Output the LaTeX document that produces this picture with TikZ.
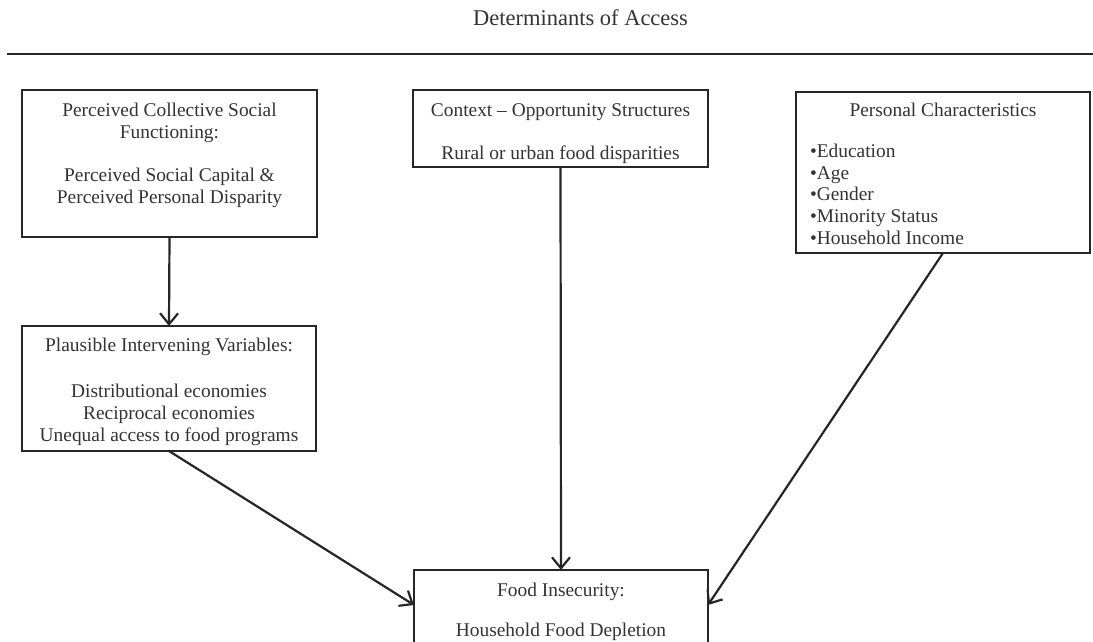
\documentclass[tikz,border=0pt]{standalone}
\usepackage{fontspec}
\setmainfont{Liberation Serif}
\usetikzlibrary{arrows.meta}
\definecolor{ink}{HTML}{333333}
\definecolor{linec}{HTML}{262626}
\begin{document}
\begin{tikzpicture}[x=1pt,y=-1pt,
  box/.style={draw=linec,line width=2.2pt,rectangle,inner sep=0pt,outer sep=0pt},
  txt/.style={text=ink,inner sep=0pt,outer sep=0pt,font=\fontsize{19.4}{21.6}\selectfont},
  conn/.style={draw=linec,line width=2.2pt,-{Straight Barb[length=11pt,width=18pt,line width=2.2pt]}}]
\useasboundingbox (0,0) rectangle (1093,642);
\clip (0,0) rectangle (1093,642);
% title and rule
\node[txt,anchor=base,font=\fontsize{22.5}{25}\selectfont] (title) at (580.5,26) {Determinants of Access};
\coordinate (ruleL) at (7,54);
\coordinate (ruleR) at (1093,54);
\draw[draw=linec,line width=2.6pt] (ruleL) -- (ruleR);
% boxes
\node[box,minimum width=295pt,minimum height=147pt] (b1) at (169.5,163.5) {};
\node[box,minimum width=295pt,minimum height=77pt] (b2) at (560.5,128.5) {};
\node[box,minimum width=294pt,minimum height=161pt] (b3) at (943,172.5) {};
\node[box,minimum width=294pt,minimum height=125pt] (b4) at (169,388.5) {};
\node[box,minimum width=294pt,minimum height=110pt] (b5) at (561,625) {};
% texts (multi-line nodes: base = baseline of last line)
\node[txt,anchor=base,align=center] (t1a) at (169.5,138) {Perceived Collective Social\\Functioning:};
\node[txt,anchor=base,align=center] (t1b) at (169.5,203) {Perceived Social Capital \&\\Perceived Personal Disparity};
\node[txt,anchor=base] (t2a) at (560.5,116) {Context – Opportunity Structures};
\node[txt,anchor=base] (t2b) at (560.5,159) {Rural or urban food disparities};
\node[txt,anchor=base] (t3a) at (943,116) {Personal Characteristics};
\node[txt,anchor=base west,align=left] (t3b) at (810,244) {•Education\\•Age\\•Gender\\•Minority Status\\•Household Income};
\node[txt,anchor=base] (t4a) at (169,351) {Plausible Intervening Variables:};
\node[txt,anchor=base,align=center] (t4b) at (169,441) {Distributional economies\\Reciprocal economies\\Unequal access to food programs};
\node[txt,anchor=base] (t5a) at (561,596) {Food Insecurity:};
\node[txt,anchor=base] (t5b) at (561,636) {Household Food Depletion};
% connectors
\coordinate (b5l) at (414,605);
\coordinate (b5r) at (708,605);
\draw[conn] (b1.south) -- (b4.north);
\draw[conn] (b2.south) -- (b5.north);
\draw[conn] (b4.south) -- (b5l);
\draw[conn] (b3.south) -- (b5r);
\end{tikzpicture}
\end{document}
